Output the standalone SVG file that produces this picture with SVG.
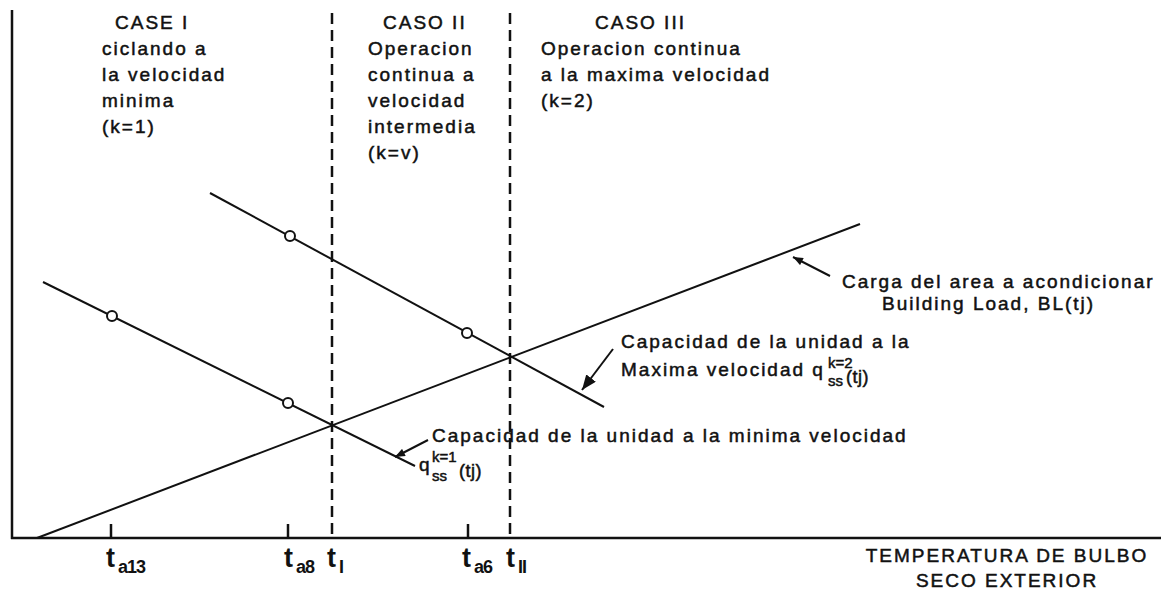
<svg xmlns="http://www.w3.org/2000/svg" width="1161" height="589" viewBox="0 0 1161 589">
<style>
.t{font-family:"Liberation Sans",Arial,sans-serif;font-size:19px;letter-spacing:2px;fill:#111;stroke:#111;stroke-width:0.5px}
.tb{font-family:"Liberation Sans",Arial,sans-serif;font-weight:bold;fill:#111}
.sub{font-size:18px;letter-spacing:-1px}
.sm{font-size:15px;letter-spacing:0px}
.pr{font-size:18px;letter-spacing:0.5px}
.ln{stroke:#111;stroke-width:2;fill:none}
.ax{stroke:#111;stroke-width:2.5;fill:none}
.ds{stroke:#111;stroke-width:2.5;stroke-dasharray:11 6;fill:none}
.pt{fill:#fff;stroke:#111;stroke-width:2}
</style>
<defs>
<marker id="ah" viewBox="0 0 10 8" refX="10" refY="4" markerWidth="11" markerHeight="8" markerUnits="userSpaceOnUse" orient="auto">
<path d="M0,0 L10,4 L0,8 z" fill="#111"/>
</marker>
<marker id="ahL" viewBox="0 0 10 8" refX="10" refY="4" markerWidth="15" markerHeight="12" markerUnits="userSpaceOnUse" orient="auto">
<path d="M0,0 L10,4 L0,8 z" fill="#111"/>
</marker>
</defs>
<rect width="1161" height="589" fill="#fff"/>
<g id="axes">
<line class="ax" x1="12" y1="10" x2="12" y2="539"/>
<line class="ax" x1="11" y1="538" x2="1161" y2="538"/>
<line class="ax" x1="111" y1="524" x2="111" y2="538"/>
<line class="ax" x1="288" y1="524" x2="288" y2="538"/>
<line class="ax" x1="468" y1="524" x2="468" y2="538"/>
<line class="ds" x1="332" y1="13" x2="332" y2="538"/>
<line class="ds" x1="510" y1="13" x2="510" y2="538"/>
</g>
<g id="curves">
<line id="bl" class="ln" x1="37" y1="538" x2="860" y2="224"/>
<line id="k1" class="ln" x1="43" y1="282" x2="415" y2="466"/>
<line id="k2" class="ln" x1="210" y1="193" x2="604" y2="407"/>
</g>
<g id="points">
<circle class="pt" cx="112" cy="316" r="5"/>
<circle class="pt" cx="288" cy="403" r="5"/>
<circle class="pt" cx="290" cy="236" r="5"/>
<circle class="pt" cx="467" cy="333" r="5"/>
</g>
<g id="connectors">
<line class="ln" x1="830" y1="276" x2="793" y2="257" marker-end="url(#ah)"/>
<line class="ln" x1="613" y1="349" x2="582" y2="390" marker-end="url(#ahL)"/>
<line class="ln" x1="428" y1="440" x2="395" y2="457" marker-end="url(#ah)"/>
</g>
<g id="case1">
<text class="t" x="115" y="29">CASE I</text>
<text class="t" x="102" y="55">ciclando a</text>
<text class="t" x="102" y="81">la velocidad</text>
<text class="t" x="102" y="107">minima</text>
<text class="t" x="102" y="133">(k=1)</text>
</g>
<g id="case2">
<text class="t" x="383" y="29">CASO II</text>
<text class="t" x="368" y="55">Operacion</text>
<text class="t" x="368" y="81">continua a</text>
<text class="t" x="368" y="107">velocidad</text>
<text class="t" x="368" y="133">intermedia</text>
<text class="t" x="368" y="159">(k=v)</text>
</g>
<g id="case3">
<text class="t" x="595" y="29">CASO III</text>
<text class="t" x="541" y="55">Operacion continua</text>
<text class="t" x="541" y="81">a la maxima velocidad</text>
<text class="t" x="541" y="107">(k=2)</text>
</g>
<g id="label-bl">
<text class="t" x="842" y="288">Carga del area a acondicionar</text>
<text class="t" x="882" y="310">Building Load, BL(tj)</text>
</g>
<g id="label-k2">
<text class="t" x="621" y="348">Capacidad de la unidad a la</text>
<text class="t" x="621" y="376">Maxima velocidad q</text>
<text class="t sm" x="828" y="368">k=2</text>
<text class="t sm" x="828" y="386">ss</text>
<text class="t pr" x="846" y="383">(tj)</text>
</g>
<g id="label-k1">
<text class="t" x="432" y="442">Capacidad de la unidad a la minima velocidad</text>
<text class="t" x="419" y="471">q</text>
<text class="t sm" x="432" y="462">k=1</text>
<text class="t sm" x="432" y="481">ss</text>
<text class="t pr" x="459" y="477">(tj)</text>
</g>
<g id="ticks">
<text class="tb" x="106" y="567" font-size="27">t<tspan class="sub" x="118" y="573">a13</tspan></text>
<text class="tb" x="284" y="567" font-size="27">t<tspan class="sub" x="296" y="573">a8</tspan></text>
<text class="tb" x="327" y="567" font-size="27">t<tspan class="sub" x="339" y="573">I</tspan></text>
<text class="tb" x="462" y="567" font-size="27">t<tspan class="sub" x="474" y="573">a6</tspan></text>
<text class="tb" x="506" y="567" font-size="27">t<tspan class="sub" x="518" y="573">II</tspan></text>
</g>
<g id="axis-title">
<text class="t" x="1007" y="562" text-anchor="middle">TEMPERATURA DE BULBO</text>
<text class="t" x="1007" y="587" text-anchor="middle">SECO EXTERIOR</text>
</g>
</svg>
